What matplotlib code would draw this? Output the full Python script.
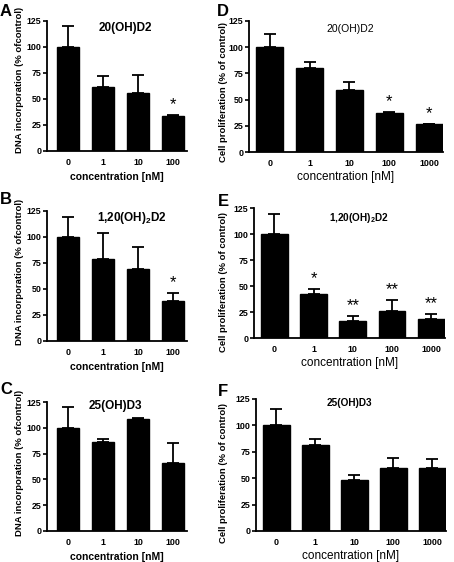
import matplotlib
matplotlib.use("Agg")
import matplotlib.pyplot as plt

plt.rcParams['font.family'] = ['Liberation Sans', 'DejaVu Sans']
plt.rcParams['mathtext.fontset'] = 'custom'
plt.rcParams['mathtext.rm'] = 'Liberation Sans'
plt.rcParams['mathtext.bf'] = 'Liberation Sans:bold'

conc_left = ['0', '1', '10', '100']
conc_right = ['0', '1', '10', '100', '1000']

A_vals = [100, 62, 56, 34]
A_err = [20, 10, 17, 1]
A_stars = ['', '', '', '*']

B_vals = [100, 79, 69, 38]
B_err = [19.5, 25, 21, 8.5]
B_stars = ['', '', '', '*']

C_vals = [100, 86, 108.5, 66]
C_err = [20, 3.5, 1, 19]
C_stars = ['', '', '', '']

D_vals = [100.5, 80.5, 59, 37.5, 26.5]
D_err = [12, 5, 8, 0.5, 0.5]
D_stars = ['', '', '', '*', '*']

E_vals = [100, 42.5, 16, 25.5, 18.5]
E_err = [19, 4.5, 5, 11.5, 5]
E_stars = ['', '*', '**', '**', '**']

F_vals = [100.5, 81.5, 48.5, 59.5, 59.5]
F_err = [15, 6, 5, 10, 9]
F_stars = ['', '', '', '', '']

yticks = [0, 25, 50, 75, 100, 125]

W, H = 454, 562
fig = plt.figure(figsize=(W / 100, H / 100), dpi=100)


def px_axes(x0, x1, ytop, ybot):
    return fig.add_axes([x0 / W, (H - ybot) / H, (x1 - x0) / W, (ybot - ytop) / H])


def panel(ax, cats, vals, errs, stars, left, title, tx, ty, tsize, tweight):
    x = list(range(len(cats)))
    width = 0.64 if left else 0.68
    ax.bar(x, vals, width=width, color='black', edgecolor='black', zorder=2)
    ax.errorbar(x, vals, yerr=[[0] * len(errs), errs], fmt='none', ecolor='black',
                elinewidth=1.3, capsize=4.2, capthick=1.3, zorder=3)
    for xi, v, e, s in zip(x, vals, errs, stars):
        if s:
            ax.text(xi, v + e + 2.5, s, ha='center', va='bottom',
                    fontsize=12, fontweight='normal')
    if left:
        ax.set_xlim(-0.6, 3.4)
    else:
        ax.set_xlim(-0.52, 4.35)
    ax.set_ylim(0, 125)
    ax.set_yticks(yticks)
    ax.set_xticks(x)
    ax.set_xticklabels(cats)
    for sp in ['top', 'right']:
        ax.spines[sp].set_visible(False)
    for sp in ['left', 'bottom']:
        ax.spines[sp].set_linewidth(1.3)
    ax.tick_params(axis='y', direction='out', length=3, width=1.2, labelsize=6.4, pad=1)
    ax.tick_params(axis='x', length=0, labelsize=6.4, pad=5)
    for lab in ax.get_yticklabels() + ax.get_xticklabels():
        lab.set_fontweight('bold')
    if left:
        ax.set_xlabel('concentration [nM]', fontsize=7.5, fontweight='bold', labelpad=3.5)
    else:
        ax.set_xlabel('concentration [nM]', fontsize=8.5, labelpad=2)
    ax.text(tx, ty, title, transform=ax.transAxes, ha='center', va='center',
            fontsize=tsize, fontweight=tweight)


axA = px_axes(47, 187, 21, 151)
axB = px_axes(47, 187, 211, 341)
axC = px_axes(47, 187, 402, 531)
axD = px_axes(249, 443, 21, 152)
axE = px_axes(254, 445, 208, 338)
axF = px_axes(256, 446, 399, 531)

panel(axA, conc_left, A_vals, A_err, A_stars, True, '20(OH)D2', 0.56, 0.95, 8.5, 'bold')
panel(axB, conc_left, B_vals, B_err, B_stars, True, '1,20(OH)$_\\mathbf{2}$D2', 0.61, 0.95, 8.5, 'bold')
panel(axC, conc_left, C_vals, C_err, C_stars, True, '25(OH)D3', 0.49, 0.97, 8.5, 'bold')
panel(axD, conc_right, D_vals, D_err, D_stars, False, '20(OH)D2', 0.52, 0.94, 7.5, 'normal')
panel(axE, conc_right, E_vals, E_err, E_stars, False, '1,20(OH)$_\\mathbf{2}$D2', 0.55, 0.92, 7.2, 'bold')
panel(axF, conc_right, F_vals, F_err, F_stars, False, '25(OH)D3', 0.49, 0.97, 7.2, 'bold')

# y labels
left_lab = 'DNA incorporation (% ofcontrol)'
right_lab = 'Cell proliferation (% of control)'
for yc in [80, 272, 463]:
    fig.text(20 / W, 1 - yc / H, left_lab, rotation=90, ha='center', va='center',
             fontsize=6.8, fontweight='bold')
for yc in [92, 282, 473]:
    fig.text(223 / W, 1 - yc / H, right_lab, rotation=90, ha='center', va='center',
             fontsize=6.8, fontweight='bold')

# panel letters
for letter, xp, yp in [('A', 6, 11), ('B', 6, 200), ('C', 6, 390),
                       ('D', 223, 12), ('E', 223, 201), ('F', 223, 391)]:
    fig.text(xp / W, 1 - yp / H, letter, ha='center', va='center',
             fontsize=12, fontweight='bold')

fig.savefig('out.png', dpi=100)
